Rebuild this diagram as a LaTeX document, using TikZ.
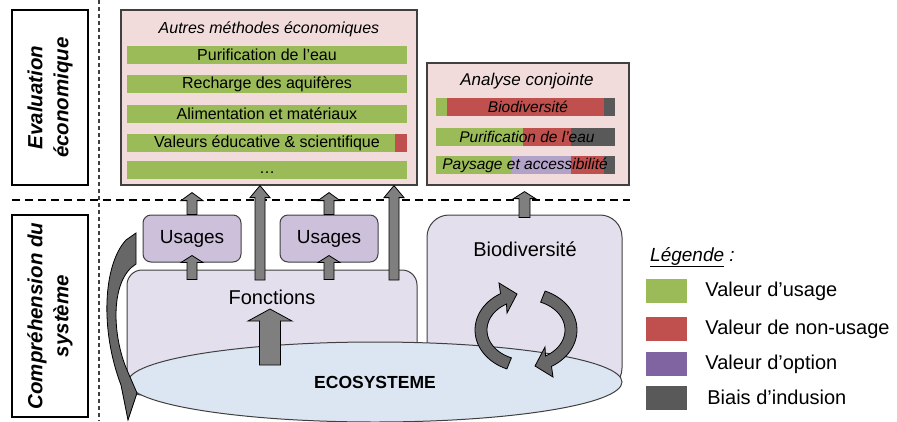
\documentclass[tikz,border=0pt]{standalone}
\usepackage{fontspec}
\setmainfont{Liberation Sans}
\usepackage{tikz}
\usetikzlibrary{positioning,shapes.geometric,calc}
\definecolor{vertUsage}{HTML}{9BBB59}
\definecolor{rougeNonUsage}{HTML}{C0504D}
\definecolor{violetOption}{HTML}{8064A2}
\definecolor{violetClair}{HTML}{B3A2C7}
\definecolor{grisBiais}{HTML}{595959}
\definecolor{roseFond}{HTML}{F2DCDB}
\definecolor{violetUsage}{HTML}{CCC0DA}
\definecolor{violetZone}{HTML}{E4DFEC}
\definecolor{bleuEco}{HTML}{DCE6F2}
\definecolor{grisFleche}{HTML}{7F7F7F}
\definecolor{grisCourbe}{HTML}{676767}
\definecolor{bordGris}{HTML}{404040}
\newcommand{\taille}[1]{\fontsize{#1}{#1}\selectfont}
% grosse fleche verticale : depart, arrivee, demi-tige, demi-tete, longueur tete
\newcommand{\grosseFleche}[5]{%
  \filldraw[fleche] let \p1=(#1), \p2=(#2) in
    (\x1-#3,\y1) -- (\x1-#3,\y2-#5) -- (\x1-#4,\y2-#5) -- (\x1,\y2)
    -- (\x1+#4,\y2-#5) -- (\x1+#3,\y2-#5) -- (\x1+#3,\y1) -- cycle;}

\begin{document}
\begin{tikzpicture}[x=1pt,y=-1pt,
  cote/.style={draw=black,line width=1.2pt,fill=white,align=center,inner sep=0pt,
    font=\fontsize{20.5}{26}\selectfont\bfseries\itshape},
  methode/.style={draw=bordGris,line width=1.2pt,fill=roseFond,inner sep=0pt},
  barre/.style={fill=vertUsage,minimum width=280pt,minimum height=18pt,inner sep=0pt,
    font=\taille{16}},
  barreAC/.style={inner sep=0pt,font=\taille{15.5}\itshape},
  usage/.style={draw=bordGris,line width=1pt,fill=violetUsage,rounded corners=8pt,
    minimum width=98pt,minimum height=47pt,font=\taille{19}},
  zone/.style={draw=bordGris,line width=1pt,fill=violetZone},
  fleche/.style={draw=black,line width=0.8pt,fill=grisFleche},
  courbe/.style={draw=black,line width=0.8pt,fill=grisCourbe},
  carre/.style={minimum width=41pt,minimum height=24pt,inner sep=0pt},
  legende/.style={font=\taille{20},inner sep=0pt}]
\useasboundingbox (0,0) rectangle (897,421);

% Separations
\draw[bordGris,line width=1.5pt,dash pattern=on 4pt off 3pt] (99,0) -- (99,421);
\draw[black,line width=1.8pt,dash pattern=on 8pt off 5pt] (12,200) -- (630,200);

% Cotes
\node[cote,rotate=90,minimum width=175pt,minimum height=76pt] (evalCote) at (50,97.5) {Evaluation\\économique};
\node[cote,rotate=90,minimum width=202pt,minimum height=76pt] (compCote) at (50,316) {Compréhension du\\système};

% Autres methodes
\node[methode,minimum width=296pt,minimum height=175pt] (autres) at (269,97.5) {};
\node[font=\taille{16}\itshape] (autresTitre) at (269,29) {Autres méthodes économiques};
\node[barre] (b1) at (267,55) {Purification de l’eau};
\node[barre] (b2) at (267,84) {Recharge des aquifères};
\node[barre] (b3) at (267,114) {Alimentation et matériaux};
\node[barre] (b4) at (267,143) {Valeurs éducative \& scientifique};
\fill[rougeNonUsage] ([xshift=-12pt]b4.north east) rectangle (b4.south east);
\node[barre] (b5) at (267,170) {\vphantom{Ag}…};

% Analyse conjointe
\node[methode,minimum width=202pt,minimum height=122pt] (analyse) at (528,124) {};
\node[font=\taille{17}\itshape] (analyseTitre) at (527,81) {Analyse conjointe};
\fill[vertUsage] (436,98) rectangle (447,116);
\fill[rougeNonUsage] (447,98) rectangle (604,116);
\fill[grisBiais] (604,98) rectangle (615,116);
\fill[vertUsage] (436,128) rectangle (523,146);
\fill[rougeNonUsage] (523,128) rectangle (571,146);
\fill[grisBiais] (571,128) rectangle (615,146);
\fill[vertUsage] (436,156) rectangle (512,174);
\fill[violetClair] (512,156) rectangle (571,174);
\fill[rougeNonUsage] (571,156) rectangle (604,174);
\fill[grisBiais] (604,156) rectangle (615,174);
\node[barreAC] (ac1) at (528,107) {Biodiversité};
\node[barreAC] (ac2) at (527,137) {Purification de l’eau};
\node[barreAC] (ac3) at (525,165) {Paysage et accessibilité};

% Systeme
\node[zone,rounded corners=15pt,minimum width=290pt,minimum height=125pt] (fonc) at (272,332.5) {};
\node[zone,rounded corners=22pt,minimum width=195pt,minimum height=175pt] (bio) at (524.5,302.5) {};
\node[ellipse,draw=bordGris,line width=1pt,fill=bleuEco,minimum width=494pt,minimum height=80pt,
  inner sep=0pt,font=\taille{17.5}\bfseries] (eco) at (375,382) {ECOSYSTEME};
\node[font=\taille{20}] (foncTxt) at (272,297) {Fonctions};
\node[font=\taille{20}] (bioTxt) at (525,249) {Biodiversité};
\node[usage] (usg1) at (192,238.5) {Usages};
\node[usage] (usg2) at (329,238.5) {Usages};

% Fleches
\coordinate (haut1) at (usg1.north |- autres.south);
\coordinate (haut2) at (usg2.north |- autres.south);
\coordinate (bas1) at (fonc.north -| usg1.south);
\coordinate (bas2) at (fonc.north -| usg2.south);
\coordinate (long1) at (260,280);
\coordinate (long2) at (394,280);
\coordinate (ecoHaut) at (270,365);
\coordinate (foncBas) at (270,309);
\coordinate (bioFin) at (bio.north |- analyse.south);
\grosseFleche{usg1.north}{[yshift=-7pt]haut1}{5pt}{11pt}{8pt}
\grosseFleche{usg2.north}{[yshift=-7pt]haut2}{5pt}{11pt}{8pt}
\grosseFleche{[yshift=-10pt]bas1}{[yshift=7pt]usg1.south}{5pt}{11pt}{7pt}
\grosseFleche{[yshift=-10pt]bas2}{[yshift=7pt]usg2.south}{5pt}{11pt}{7pt}
\grosseFleche{long1}{autres.south -| long1}{5pt}{10pt}{12pt}
\grosseFleche{long2}{autres.south -| long2}{5pt}{10pt}{12pt}
\grosseFleche{ecoHaut}{foncBas}{10.5pt}{22pt}{12pt}
\grosseFleche{[yshift=-3pt]bio.north}{[yshift=-6pt]bioFin}{5.5pt}{11pt}{7pt}

% Fleches courbes
\filldraw[courbe] (126,240) -- (136,233) -- (136,264) .. controls (110,280) and (112,335) .. (127,370)
  -- (137,393) -- (128,420) -- (121,385) .. controls (100,330) and (103,265) .. (126,240) -- cycle;
\filldraw[courbe] plot[domain=112:240,samples=30] ({526+51*cos(\x)},{330+42*sin(\x)})
  -- (499,283) -- (517,294) -- (507,313)
  -- plot[domain=240:112,samples=30] ({526+39*cos(\x)},{330+30*sin(\x)}) -- cycle;
\filldraw[courbe] plot[domain=292:420,samples=30] ({526+51*cos(\x)},{330+42*sin(\x)})
  -- (553,377) -- (535,366) -- (545,347)
  -- plot[domain=420:292,samples=30] ({526+39*cos(\x)},{330+30*sin(\x)}) -- cycle;

% Legende
\node[font=\taille{19}\itshape,anchor=west,inner sep=0pt] (legTitre) at (650,257) {\underline{Légende}~:};
\node[carre,fill=vertUsage] (leg1) at (666.5,291) {};
\node[carre,fill=rougeNonUsage] (leg2) at (666.5,329) {};
\node[carre,fill=violetOption] (leg3) at (666.5,364) {};
\node[carre,fill=grisBiais] (leg4) at (666.5,397.5) {};
\node[legende,right=18pt of leg1] (legTxt1) {Valeur d’usage};
\node[legende,right=18pt of leg2] (legTxt2) {Valeur de non-usage};
\node[legende,right=18pt of leg3] (legTxt3) {Valeur d’option};
\node[legende,right=20pt of leg4] (legTxt4) {Biais d’indusion};
\end{tikzpicture}
\end{document}
